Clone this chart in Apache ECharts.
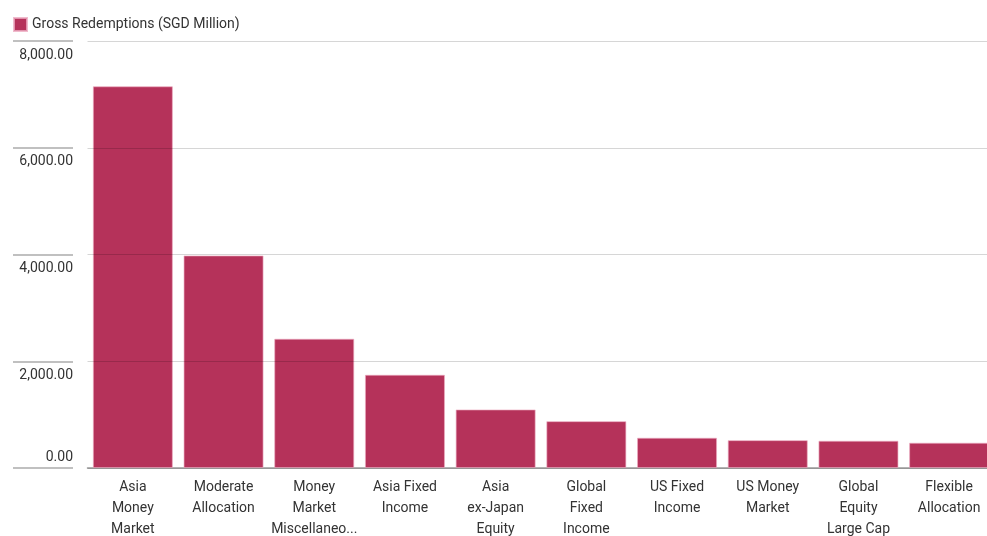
<!DOCTYPE html>
<html>
<head>
<meta charset="utf-8">
<script src="https://cdn.jsdelivr.net/npm/echarts@6/dist/echarts.min.js"></script>
<style>
  html, body { margin: 0; padding: 0; background: #fff; }
  #chart { width: 987px; height: 536px; }
</style>
</head>
<body>
<div id="chart"></div>
<script>
// Fund categories ranked by gross redemptions
const categories = [
  'Asia\nMoney\nMarket',
  'Moderate\nAllocation',
  'Money\nMarket\nMiscellaneous',
  'Asia Fixed\nIncome',
  'Asia\nex-Japan\nEquity',
  'Global\nFixed\nIncome',
  'US Fixed\nIncome',
  'US Money\nMarket',
  'Global\nEquity\nLarge Cap',
  'Flexible\nAllocation'
];
const seriesName = 'Gross Redemptions (SGD Million)';
const redemptions = [7150, 3980, 2420, 1745, 1095, 876, 565, 520, 509, 472];
const yTicks = [0, 2000, 4000, 6000, 8000];

const FONT = '"Roboto", "Liberation Sans", sans-serif';
const TEXT = '#333333';
const BAR = '#b5325a';
const MAX_LINE_CHARS = 12;

const fmt = v => v.toLocaleString('en-US', { minimumFractionDigits: 2, maximumFractionDigits: 2 });
// shorten over-long label lines with an ellipsis
const clip = s => s.split('\n')
  .map(l => (l.length > MAX_LINE_CHARS ? l.slice(0, MAX_LINE_CHARS - 1) + '...' : l))
  .join('\n');

const chart = echarts.init(document.getElementById('chart'), null, { renderer: 'canvas' });
chart.setOption({
  animation: false,
  backgroundColor: '#ffffff',
  textStyle: { fontFamily: FONT },
  legend: {
    left: 8, top: 12,
    itemWidth: 13, itemHeight: 13,
    icon: 'rect',
    textStyle: { fontFamily: FONT, fontSize: 14, color: TEXT },
    data: [seriesName]
  },
  grid: [
    // tick-label column on the left
    { left: 13, width: 60, top: 41, bottom: 68, outerBoundsMode: 'none', containLabel: false },
    // plotting area
    { left: 87.5, width: 907, top: 41, bottom: 68, outerBoundsMode: 'none', containLabel: false }
  ],
  xAxis: [
    { gridIndex: 0, type: 'category', data: [''], show: false },
    {
      gridIndex: 1, type: 'category', data: categories,
      axisLine: { lineStyle: { color: '#9a9a9a', width: 1.5 } },
      axisTick: { show: false },
      axisLabel: {
        interval: 0, margin: 9,
        fontFamily: FONT, fontSize: 14, color: TEXT,
        lineHeight: 21, align: 'center',
        formatter: clip
      }
    }
  ],
  yAxis: [
    {
      gridIndex: 0, type: 'value', position: 'right',
      min: yTicks[0], max: yTicks[yTicks.length - 1], interval: yTicks[1] - yTicks[0],
      axisLine: { show: false }, axisTick: { show: false },
      splitLine: { lineStyle: { color: '#ababab', width: 1.5 } },
      axisLabel: {
        inside: true, margin: 0,
        fontFamily: FONT, fontSize: 14, color: TEXT,
        verticalAlign: 'middle',
        // tick values sit just under their line; the zero value sits above it
        formatter: v => (v === 0 ? '{v|' + fmt(v) + '}\n{below| }' : '{above| }\n{v|' + fmt(v) + '}'),
        rich: {
          v: { fontFamily: FONT, fontSize: 14, color: TEXT, lineHeight: 16 },
          above: { fontSize: 1, lineHeight: 28 },
          below: { fontSize: 1, lineHeight: 22 }
        }
      }
    },
    {
      gridIndex: 1, type: 'value', z: 5,
      min: yTicks[0], max: yTicks[yTicks.length - 1], interval: yTicks[1] - yTicks[0],
      axisLine: { show: false }, axisTick: { show: false }, axisLabel: { show: false },
      splitLine: { lineStyle: { color: 'rgba(0,0,0,0.16)', width: 1.2 } }
    }
  ],
  series: [
    {
      name: seriesName, type: 'bar',
      xAxisIndex: 1, yAxisIndex: 1,
      data: redemptions,
      barCategoryGap: '12%',
      itemStyle: { color: BAR, borderColor: 'rgba(236,170,192,0.8)', borderWidth: 0.8 }
    }
  ]
});
</script>
</body>
</html>
